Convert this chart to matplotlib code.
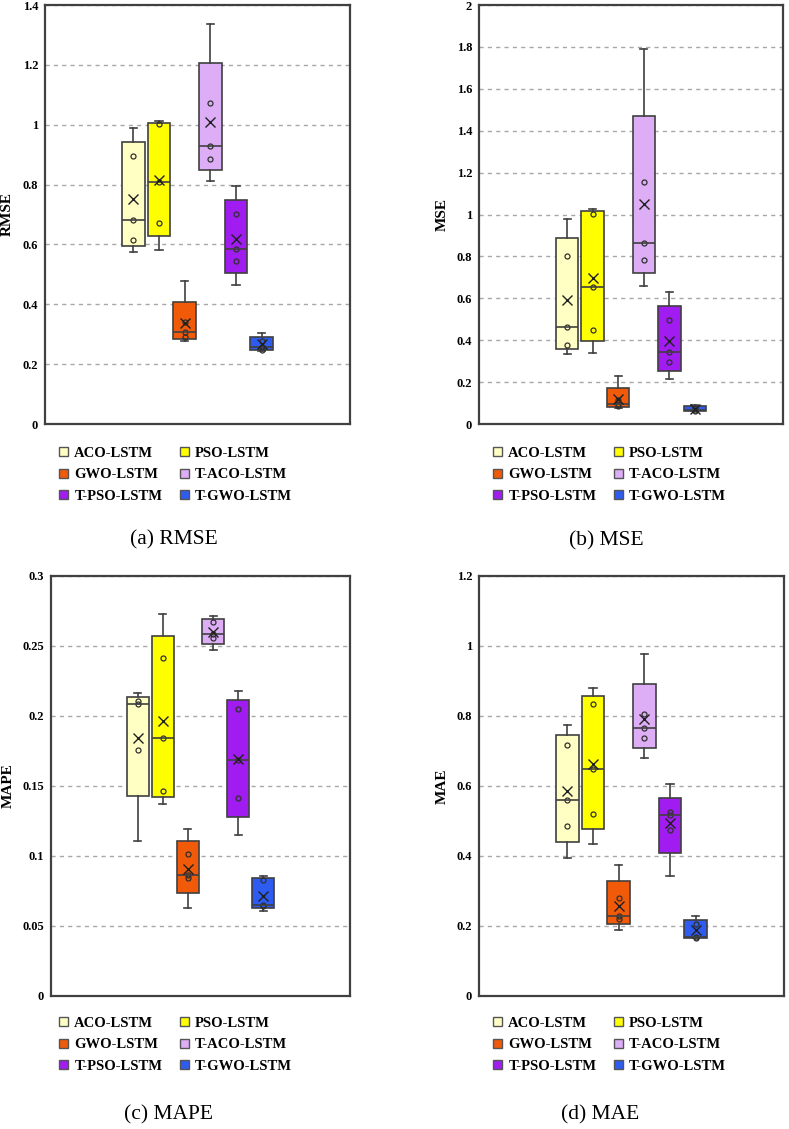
import numpy as np
import matplotlib
matplotlib.use("Agg")
import matplotlib.pyplot as plt
from matplotlib.patches import Patch

plt.rcParams['font.family'] = ['Liberation Serif', 'DejaVu Serif']

# models and their colours
models = ['ACO-LSTM', 'PSO-LSTM', 'GWO-LSTM', 'T-ACO-LSTM', 'T-PSO-LSTM', 'T-GWO-LSTM']
colors = ['#FFFFC4', '#FFFF00', '#F05A08', '#DDADF5', '#A01CF0', '#2E5CF0']

# five run results per model
rmse_aco = [0.576, 0.614, 0.681, 0.895, 0.989]
rmse_pso = [0.583, 0.671, 0.808, 1.001, 1.013]
rmse_gwo = [0.276, 0.292, 0.306, 0.340, 0.478]
rmse_taco = [0.813, 0.886, 0.930, 1.074, 1.338]
rmse_tpso = [0.464, 0.543, 0.585, 0.703, 0.794]
rmse_tgwo = [0.245, 0.248, 0.258, 0.277, 0.304]

mse_aco = [0.334, 0.378, 0.464, 0.800, 0.978]
mse_pso = [0.340, 0.451, 0.655, 1.003, 1.027]
mse_gwo = [0.076, 0.085, 0.094, 0.116, 0.229]
mse_taco = [0.661, 0.785, 0.864, 1.153, 1.791]
mse_tpso = [0.215, 0.295, 0.342, 0.495, 0.630]
mse_tgwo = [0.060, 0.062, 0.067, 0.077, 0.092]

mape_aco = [0.1106, 0.1756, 0.2085, 0.2105, 0.2163]
mape_pso = [0.1375, 0.1466, 0.1846, 0.2417, 0.2729]
mape_gwo = [0.0626, 0.0840, 0.0862, 0.1016, 0.1194]
mape_taco = [0.2470, 0.2555, 0.2584, 0.2669, 0.2717]
mape_tpso = [0.1147, 0.1413, 0.1687, 0.2048, 0.2179]
mape_tgwo = [0.0607, 0.0645, 0.0648, 0.0828, 0.0854]

mae_aco = [0.393, 0.486, 0.560, 0.716, 0.773]
mae_pso = [0.434, 0.519, 0.649, 0.835, 0.879]
mae_gwo = [0.188, 0.221, 0.228, 0.281, 0.374]
mae_taco = [0.679, 0.737, 0.765, 0.805, 0.978]
mae_tpso = [0.343, 0.473, 0.517, 0.525, 0.607]
mae_tgwo = [0.166, 0.167, 0.168, 0.205, 0.230]

rmse_ticks = [0, 0.2, 0.4, 0.6, 0.8, 1, 1.2, 1.4]
mse_ticks = [0, 0.2, 0.4, 0.6, 0.8, 1, 1.2, 1.4, 1.6, 1.8, 2]
mape_ticks = [0, 0.05, 0.1, 0.15, 0.2, 0.25, 0.3]
mae_ticks = [0, 0.2, 0.4, 0.6, 0.8, 1, 1.2]

panels = [
    ('RMSE', '(a) RMSE', [rmse_aco, rmse_pso, rmse_gwo, rmse_taco, rmse_tpso, rmse_tgwo], rmse_ticks),
    ('MSE', '(b) MSE', [mse_aco, mse_pso, mse_gwo, mse_taco, mse_tpso, mse_tgwo], mse_ticks),
    ('MAPE', '(c) MAPE', [mape_aco, mape_pso, mape_gwo, mape_taco, mape_tpso, mape_tgwo], mape_ticks),
    ('MAE', '(d) MAE', [mae_aco, mae_pso, mae_gwo, mae_taco, mae_tpso, mae_tgwo], mae_ticks),
]

W, H = 789, 1129
fig = plt.figure(figsize=(W / 100, H / 100), dpi=100)

# axes boxes in pixels: left, right, top, bottom
ax_px = [(45, 350, 5, 424), (479, 783, 5, 424), (51, 350, 576, 996), (479, 784, 576, 996)]
ylabel_px = [7, 442, 8, 442]
legend_px = [(59, 447), (493, 447), (59, 1017), (493, 1017)]
caption_px = [(174, 540), (606, 541), (168, 1115), (600, 1115)]

edge = '#404040'


def box_stats(vals):
    v = np.sort(np.array(vals))
    q1, med, q3 = np.percentile(v, [25, 50, 75], method='weibull')
    return dict(whislo=v[0], q1=q1, med=med, q3=q3, whishi=v[-1], mean=v.mean(), fliers=[])


# legend fills row by row in the original
order = [0, 2, 4, 1, 3, 5]

for i, (ylab, cap, data, ticks) in enumerate(panels):
    l, r, t, b = ax_px[i]
    ax = fig.add_axes([l / W, 1 - b / H, (r - l) / W, (b - t) / H])
    pos = np.arange(1, len(models) + 1)
    stats = [box_stats(d) for d in data]
    bp = ax.bxp(stats, positions=pos, widths=0.88, patch_artist=True, showmeans=True,
                showfliers=False, capwidths=0.28,
                boxprops=dict(edgecolor=edge, linewidth=1.2),
                medianprops=dict(color=edge, linewidth=1.2),
                whiskerprops=dict(color=edge, linewidth=1.2),
                capprops=dict(color=edge, linewidth=1.2),
                meanprops=dict(marker='x', markeredgecolor='#202020', markersize=6.5,
                               markeredgewidth=1.0))
    for patch, c in zip(bp['boxes'], colors):
        patch.set_facecolor(c)
    for p, d in zip(pos, data):
        inner = np.sort(d)[1:-1]
        ax.plot([p] * len(inner), inner, 'o', mfc='none', mec='#303030', ms=3.6, mew=0.9)

    ax.set_xlim(-2.45, 9.45)
    ax.set_ylim(ticks[0], ticks[-1])
    ax.set_yticks(ticks)
    ax.set_yticklabels(['%g' % v for v in ticks], fontweight='bold', fontsize=9)
    ax.set_xticks([])
    ax.tick_params(axis='y', length=0, pad=5)
    ax.yaxis.grid(True, linestyle=(0, (3, 3)), color='#a8a8a8', linewidth=1.0)
    ax.set_axisbelow(True)
    for s in ax.spines.values():
        s.set_color(edge)
        s.set_linewidth(1.6)

    fig.text(ylabel_px[i] / W, 1 - (t + b) / 2 / H, ylab, rotation=90, ha='center',
             va='center', fontweight='bold', fontsize=11)

    handles = [Patch(facecolor=c, edgecolor='#555555', linewidth=1.0) for c in colors]
    lx, ly = legend_px[i]
    fig.legend([handles[k] for k in order], [models[k] for k in order],
               loc='upper left', bbox_to_anchor=(lx / W, 1 - ly / H),
               ncol=2, frameon=False, borderpad=0, borderaxespad=0,
               handlelength=0.6, handleheight=0.6, handletextpad=0.45,
               columnspacing=1.2, labelspacing=0.58,
               prop=dict(weight='bold', size=10.5))

    cx, cy = caption_px[i]
    fig.text(cx / W, 1 - cy / H, cap, ha='center', va='center', fontsize=15.5)

fig.savefig('out.png', dpi=100)
